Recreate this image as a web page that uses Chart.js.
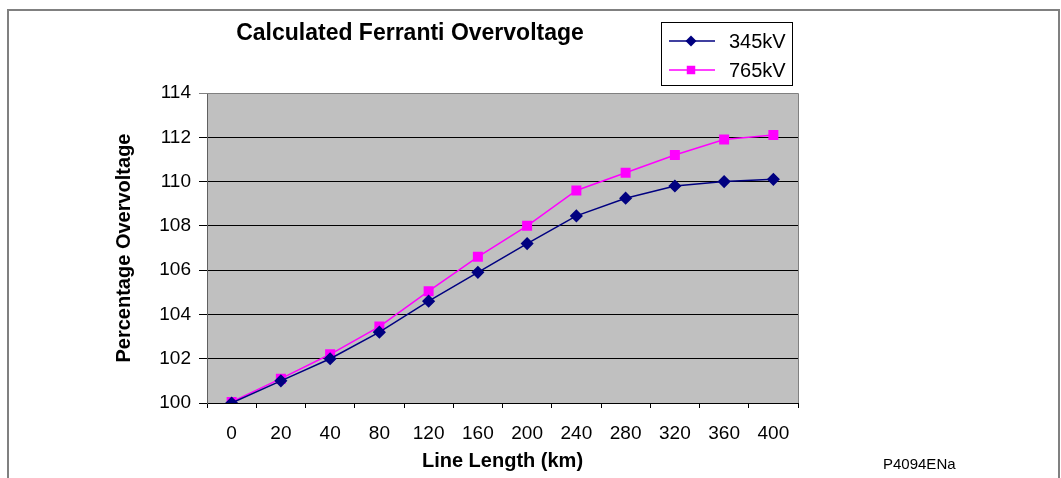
<!DOCTYPE html>
<html>
<head>
<meta charset="utf-8">
<script src="https://cdn.jsdelivr.net/npm/chart.js@4/dist/chart.umd.min.js"></script>
<style>
  html, body { margin: 0; padding: 0; background: #fff; }
  #wrap { width: 1061px; height: 478px; position: relative; }
</style>
</head>
<body>
<div id="wrap"><canvas id="ferranti"></canvas></div>
<script>
// FERRANTI OVERVOLTAGE DATA
var lineLengths = ['0', '20', '40', '80', '120', '160', '200', '240', '280', '320', '360', '400'];
var kv345 = [100.0, 101.0, 102.0, 103.2, 104.6, 105.9, 107.2, 108.45, 109.25, 109.8, 110.0, 110.1];
var kv765 = [100.05, 101.1, 102.2, 103.45, 105.05, 106.6, 108.0, 109.6, 110.4, 111.2, 111.9, 112.1];
var seriesNames = ['345kV', '765kV'];
var yTicks = [100, 102, 104, 106, 108, 110, 112, 114];

var FONT = "'Liberation Sans', Arial, sans-serif";

// background, frame, title, legend and figure code
var decorations = {
    id: 'decorations',
    beforeDraw: function (chart) {
        var c = chart.ctx, a = chart.chartArea;
        c.save();
        c.fillStyle = '#c0c0c0';
        c.fillRect(a.left, a.top, a.right - a.left, a.bottom - a.top);
        c.restore();
    },
    afterDatasetsDraw: function (chart) {
        var c = chart.ctx, a = chart.chartArea;
        c.save();
        // plot area edges
        c.strokeStyle = '#808080';
        c.lineWidth = 1;
        c.beginPath();
        c.moveTo(a.left, a.top + 0.5);
        c.lineTo(a.right + 0.5, a.top + 0.5);
        c.lineTo(a.right + 0.5, a.bottom);
        c.stroke();

        // outer frame
        c.lineWidth = 2;
        c.beginPath();
        c.moveTo(8, 478);
        c.lineTo(8, 10);
        c.lineTo(1059, 10);
        c.lineTo(1059, 478);
        c.stroke();

        // title
        c.fillStyle = '#000';
        c.font = 'bold 23px ' + FONT;
        c.textAlign = 'center';
        c.textBaseline = 'middle';
        c.fillText('Calculated Ferranti Overvoltage', 410, 34);

        // legend
        c.strokeStyle = '#000';
        c.lineWidth = 1;
        c.strokeRect(661.5, 22.5, 131, 63);
        var rows = [41, 70];
        chart.data.datasets.forEach(function (ds, i) {
            var y = rows[i];
            c.strokeStyle = ds.borderColor;
            c.lineWidth = ds.borderWidth;
            c.beginPath();
            c.moveTo(669, y);
            c.lineTo(715, y);
            c.stroke();
            c.fillStyle = ds.pointBackgroundColor;
            c.beginPath();
            if (ds.pointStyle === 'rectRot') {
                var r = ds.pointRadius;
                c.moveTo(691, y - r); c.lineTo(691 + r, y); c.lineTo(691, y + r); c.lineTo(691 - r, y);
            } else {
                var h = ds.pointRadius * Math.SQRT1_2;
                c.rect(691 - h, y - h, 2 * h, 2 * h);
            }
            c.closePath();
            c.fill();
            c.fillStyle = '#000';
            c.font = '20px ' + FONT;
            c.textAlign = 'left';
            c.fillText(ds.label, 729, y + 1);
        });

        // figure code
        c.font = '15px ' + FONT;
        c.textAlign = 'left';
        c.fillText('P4094ENa', 883, 465);
        c.restore();
    }
};

var ctx = document.getElementById('ferranti').getContext('2d');
var chart = new Chart(ctx, {
    type: 'line',
    data: {
        labels: lineLengths,
        datasets: [{
            label: seriesNames[0],
            data: kv345,
            borderColor: '#000080',
            backgroundColor: '#000080',
            pointBackgroundColor: '#000080',
            pointBorderColor: '#000080',
            borderWidth: 1.5,
            pointStyle: 'rectRot',
            pointRadius: 5.5,
            pointHoverRadius: 5.5,
            tension: 0
        }, {
            label: seriesNames[1],
            data: kv765,
            borderColor: '#ff00ff',
            backgroundColor: '#ff00ff',
            pointBackgroundColor: '#ff00ff',
            pointBorderColor: '#ff00ff',
            borderWidth: 1.5,
            pointStyle: 'rect',
            pointRadius: 6,
            pointHoverRadius: 6,
            tension: 0
        }]
    },
    options: {
        responsive: true,
        maintainAspectRatio: false,
        animation: false,
        events: [],
        layout: {
            padding: { top: 93, left: 0, right: 263, bottom: 0 }
        },
        plugins: {
            legend: { display: false },
            title: { display: false },
            tooltip: { enabled: false }
        },
        scales: {
            x: {
                offset: true,
                afterFit: function (s) { s.height = 75; },
                grid: {
                    offset: true,
                    drawOnChartArea: false,
                    drawTicks: true,
                    tickLength: 5,
                    color: '#000'
                },
                border: { color: '#000', width: 1 },
                ticks: {
                    color: '#000',
                    padding: 14,
                    maxRotation: 0,
                    autoSkip: false,
                    font: { family: FONT, size: 19 }
                },
                title: {
                    display: true,
                    text: 'Line Length (km)',
                    color: '#000',
                    padding: { top: 0, bottom: 5 },
                    font: { family: FONT, size: 20, weight: 'bold' }
                }
            },
            y: {
                min: yTicks[0],
                max: yTicks[yTicks.length - 1],
                afterFit: function (s) { s.width = 207; },
                afterBuildTicks: function (s) {
                    s.ticks = yTicks.map(function (v) { return { value: v }; });
                },
                grid: {
                    color: function (c) { return c.tick && c.tick.value === 114 ? '#808080' : '#000'; },
                    lineWidth: 1,
                    tickLength: 8
                },
                border: { color: '#606060', width: 1 },
                ticks: {
                    color: '#000',
                    padding: 8,
                    font: { family: FONT, size: 19 }
                },
                title: {
                    display: true,
                    text: 'Percentage Overvoltage',
                    color: '#000',
                    padding: { top: 112, bottom: 0 },
                    font: { family: FONT, size: 20, weight: 'bold' }
                }
            }
        }
    },
    plugins: [decorations]
});
</script>
</body>
</html>
